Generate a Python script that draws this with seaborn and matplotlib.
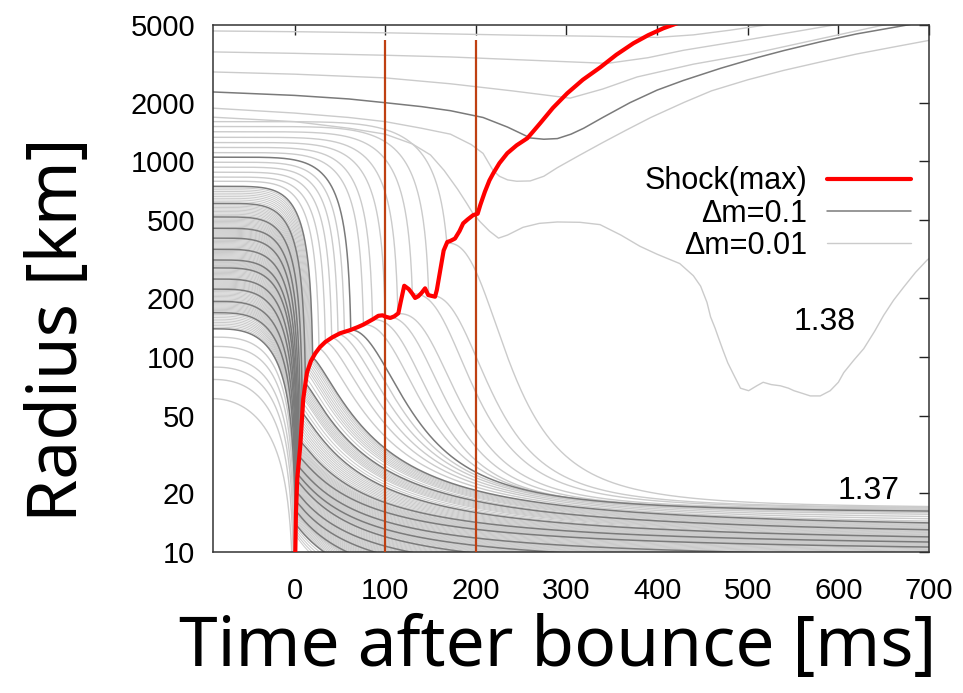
import numpy as np
import pandas as pd
import matplotlib
matplotlib.use("Agg")
import matplotlib.pyplot as plt
from matplotlib.lines import Line2D
from matplotlib.ticker import FixedLocator, NullLocator, FixedFormatter
import seaborn as sns

# ---------------- data ----------------
# maximum shock radius
shock_t = [0.8, 1.5, 3, 6.3, 9.6, 13.7, 18, 22.8, 28, 33.9, 42, 50.4, 61.5, 70, 75.8, 86.9,
           92.4, 97, 101, 105.6, 110, 114.5, 117, 121, 126, 130, 133, 136.5, 140, 144, 147.5,
           151, 155, 157, 160, 164.5, 168.5, 172, 177, 182, 186, 191, 197, 202, 205, 210, 215,
           219.3, 226, 234.7, 245, 256.8, 263, 271, 285, 300.9, 318, 337.4, 355, 373.8, 390,
           406.9, 422]
shock_r = [10, 15.8, 23.9, 35, 61, 83, 95, 104, 112, 119, 126, 132, 137, 142, 146, 156,
           162, 163, 160, 158, 161, 167, 190, 231, 222, 210, 200, 204, 212, 224, 207,
           205, 203, 220, 265, 350, 387, 392, 403, 440, 482, 505, 531, 540, 600, 700, 800,
           871, 980, 1102, 1210, 1315, 1420, 1570, 1880, 2236, 2620, 3037, 3520, 4030, 4430,
           4810, 5100]

# outer mass shells that are pushed out by the shock (vertex lists)
outer_a_t = [-90, 0, 100, 172, 250, 330, 400, 440, 480, 520, 540]
outer_a_r = [4660, 4620, 4560, 4500, 4430, 4380, 4320, 4450, 4700, 5000, 5200]
outer_b_t = [-90, 0, 100, 172, 260, 345, 390, 429, 500, 595, 620]
outer_b_r = [3640, 3580, 3500, 3430, 3300, 3180, 3400, 3710, 4200, 5000, 5200]
outer_c_t = [-90, 0, 100, 172, 240, 304, 340, 378, 440, 503, 580, 650, 680]
outer_c_r = [2874, 2800, 2680, 2500, 2300, 2110, 2350, 2710, 3150, 3550, 4250, 5000, 5300]
outer_d_t = [-90, 0, 60, 100, 140, 172, 208, 235, 250, 260, 275, 290, 305, 319, 340, 370,
             400, 429, 470, 510, 540, 580, 620, 676, 700]
outer_d_r = [2270, 2180, 2090, 2000, 1910, 1820, 1680, 1500, 1390, 1320, 1300, 1310, 1380,
             1480, 1680, 2000, 2320, 2600, 3000, 3400, 3700, 4100, 4500, 5000, 5250]
outer_e_t = [-90, 0, 60, 100, 140, 172, 195, 208, 219, 226, 235, 245, 260, 275, 290, 315,
             340, 365, 393, 430, 460, 500, 540, 580, 620, 660, 700]
outer_e_r = [1875, 1770, 1680, 1600, 1480, 1380, 1220, 1100, 900, 840, 805, 792, 795, 840,
             930, 1080, 1250, 1440, 1680, 2010, 2300, 2620, 2930, 3230, 3550, 3850, 4170]
shell138_t = [-90, 0, 60, 100, 130, 150, 165, 180, 190, 197, 205, 215, 225, 235, 252, 270,
              290, 315, 337, 360, 381, 400, 425, 440, 448, 455, 459, 464, 468, 473, 478, 485,
              492, 501, 510, 517, 526, 536, 545, 551, 560, 569, 580, 591, 600, 606, 617, 628,
              640, 650, 661, 672, 685, 698, 700]
shell138_r = [1686, 1600, 1480, 1380, 1230, 1080, 900, 720, 610, 540, 490, 440, 405, 420,
              460, 482, 490, 488, 475, 420, 368, 335, 300, 260, 230, 190, 160, 140, 124, 107,
              93, 80, 69, 67, 71, 74, 72, 71, 69, 67, 65, 63, 63, 67, 74, 83, 96, 110,
              135, 163, 195, 227, 270, 313, 318]

# settling shells, Δm = 0.1 (dark): radius at t=-90 ms, time of shock crossing, radius at 700 ms
dark_r_start = [139, 168, 192, 222, 250, 285, 313, 355, 405, 455, 520, 610, 746, 1052]
dark_t_cross = [0.8, 1.3, 1.6, 2.0, 2.4, 2.9, 3.4, 4.2, 5.2, 6.6, 8.6, 12, 20, 62]
dark_r_end = [3.0, 5.0, 5.8, 6.6, 7.3, 8.0, 8.8, 9.6, 10.6, 11.25, 11.95, 13.0, 14.1, 16.2]

# settling shells, Δm = 0.01 (light) that are distinguishable in the picture
inner_r_start = [61, 76.5, 88.5, 99.5, 113, 126]
inner_t_cross = [-1.0, -0.6, -0.2, 0.1, 0.4, 0.6]
inner_r_end = [3, 3, 3, 3, 3, 3]
mid_r_start = [792, 832, 881, 935, 991]
mid_t_cross = [27, 34, 41, 48, 55]
mid_r_end = [14.4, 14.8, 15.2, 15.6, 15.9]
upper_r_start = [1110, 1180, 1250, 1330, 1420, 1510, 1600]
upper_t_cross = [76, 86, 100, 114, 130, 148, 168]
upper_r_end = [16.3, 16.4, 16.5, 16.6, 16.8, 16.95, 17.1]
light_per_gap = 9   # Δm = 0.01 shells between two Δm = 0.1 shells in the dense core

mark_t = [100, 200]
xticks = [0, 100, 200, 300, 400, 500, 600, 700]
yticks = [10, 20, 50, 100, 200, 500, 1000, 2000, 5000]

label_138 = (585, 150, "1.38")
label_137 = (633, 20.5, "1.37")

# ---------------- build the shell trajectories ----------------
t_grid = np.linspace(-90, 700, 1581)
lt_s = np.array(shock_t)
lr_s = np.log(np.array(shock_r))


def shock_radius(tc):
    return float(np.exp(np.interp(tc, lt_s, lr_s)))


def trajectory(r0, tc, r_end):
    n = max(2.0, 2.0 + 3.0 * np.log10(r0 / 61.0))
    rk = shock_radius(tc)
    if tc <= 0.8 or rk < 12:
        T = tc + 91.0
        s = np.clip((t_grid + 90) / T, 0, 1)
        r = r0 * (1 - s ** n) ** (2 / 3)
        return np.maximum(r, 0.5)
    s_k = (1 - (rk / r0) ** 1.5) ** (1 / n)
    T = (tc + 90) / s_k
    s = np.clip((t_grid + 90) / T, 0, 1)
    r_ff = r0 * (1 - s ** n) ** (2 / 3)
    p = min(2.5, 1 + tc / 60.0)
    tau = 75.0
    dt = np.maximum(t_grid - tc, 0)
    g = 1 / (1 + (dt / tau) ** p)
    g700 = 1 / (1 + ((700 - tc) / tau) ** p)
    h = (g - g700) / (1 - g700)
    r_ps = np.exp(np.log(r_end) + (np.log(rk) - np.log(r_end)) * h)
    return np.maximum(np.where(t_grid < tc, r_ff, r_ps), 0.5)


rows = []
sid = 0


def add(r0, tc, re, kind):
    global sid
    r = trajectory(r0, tc, re)
    rows.append(pd.DataFrame({"t": t_grid, "r": r, "shell": sid, "kind": kind}))
    sid += 1


for a, b, c in zip(inner_r_start, inner_t_cross, inner_r_end):
    add(a, b, c, "light")
for i in range(len(dark_r_start) - 2):
    for k in range(1, light_per_gap + 1):
        f = k / (light_per_gap + 1)
        r0 = np.exp((1 - f) * np.log(dark_r_start[i]) + f * np.log(dark_r_start[i + 1]))
        tc = (1 - f) * dark_t_cross[i] + f * dark_t_cross[i + 1]
        re = np.exp((1 - f) * np.log(dark_r_end[i]) + f * np.log(dark_r_end[i + 1]))
        add(r0, tc, re, "dense")
for a, b, c in zip(mid_r_start, mid_t_cross, mid_r_end):
    add(a, b, c, "light")
for a, b, c in zip(upper_r_start, upper_t_cross, upper_r_end):
    add(a, b, c, "light")
for a, b, c in zip(dark_r_start, dark_t_cross, dark_r_end):
    add(a, b, c, "dark")

df = pd.concat(rows, ignore_index=True)

outer_light = [(outer_a_t, outer_a_r), (outer_b_t, outer_b_r), (outer_c_t, outer_c_r),
               (outer_e_t, outer_e_r), (shell138_t, shell138_r)]
outer_dark = [(outer_d_t, outer_d_r)]

# ---------------- drawing ----------------
sns.set_theme(style="white")
plt.rcParams["font.family"] = ["Liberation Sans", "DejaVu Sans"]
plt.rcParams["axes.unicode_minus"] = False
plt.rcParams["text.color"] = "black"
plt.rcParams["axes.labelcolor"] = "black"

LIGHT = "#cbcbcb"
DARK = "#7a7a7a"
RED = "#ff0000"
VLINE = "#bf4012"

fig = plt.figure(figsize=(9.63, 6.93), dpi=100)
ax = fig.add_axes([213 / 963, 1 - 552 / 693, 716 / 963, 527 / 693])
ax.set_yscale("log")
ax.set_xlim(-90, 700)
ax.set_ylim(10, 5000)

sns.lineplot(data=df[df.kind == "dense"], x="t", y="r", units="shell", estimator=None,
             sort=False, color=LIGHT, lw=0.75, ax=ax, legend=False, zorder=1)
sns.lineplot(data=df[df.kind == "light"], x="t", y="r", units="shell", estimator=None,
             sort=False, color=LIGHT, lw=1.0, ax=ax, legend=False, zorder=1)
for tt, rr in outer_light:
    sns.lineplot(x=tt, y=rr, sort=False, estimator=None, color=LIGHT, lw=1.0, ax=ax, zorder=1)
sns.lineplot(data=df[df.kind == "dark"], x="t", y="r", units="shell", estimator=None,
             sort=False, color=DARK, lw=1.1, ax=ax, legend=False, zorder=2)
for tt, rr in outer_dark:
    sns.lineplot(x=tt, y=rr, sort=False, estimator=None, color=DARK, lw=1.1, ax=ax, zorder=2)

ax.vlines(mark_t, 10, 4200, color=VLINE, lw=1.6, zorder=3)
sns.lineplot(x=shock_t, y=shock_r, sort=False, estimator=None, color=RED, lw=3.0, ax=ax, zorder=4)

ax.text(label_138[0], label_138[1], label_138[2], fontsize=23, ha="center", va="center",
        color="black")
ax.text(label_137[0], label_137[1], label_137[2], fontsize=23, ha="center", va="center",
        color="black")

ax.xaxis.set_major_locator(FixedLocator(xticks))
ax.yaxis.set_major_locator(FixedLocator(yticks))
ax.yaxis.set_major_formatter(FixedFormatter([str(v) for v in yticks]))
ax.yaxis.set_minor_locator(NullLocator())
ax.xaxis.set_minor_locator(NullLocator())
ax.tick_params(which="major", direction="in", top=True, right=True, length=7, width=1.0,
               labelsize=21, colors="#222222", labelcolor="black")
ax.tick_params(axis="y", pad=13)
ax.tick_params(axis="x", pad=18)
for sp in ax.spines.values():
    sp.set_color("#333333")
    sp.set_linewidth(1.1)
    sp.set_visible(True)

ax.set_xlabel("Time after bounce [ms]", fontsize=50, family=["Noto Sans", "DejaVu Sans"],
              color="black")
ax.set_ylabel("Radius [km]", fontsize=50, family=["Noto Sans", "DejaVu Sans"], color="black")
ax.xaxis.set_label_coords(0.482, -0.115)
ax.yaxis.set_label_coords(-0.166, 0.421)

handles = [Line2D([], [], color=RED, lw=3.0), Line2D([], [], color=DARK, lw=1.1),
           Line2D([], [], color=LIGHT, lw=1.0)]
labels = ["Shock(max)", "Δm=0.1", "Δm=0.01"]
leg = ax.legend(handles, labels, loc="upper right", bbox_to_anchor=(0.975, 0.732),
                frameon=False, markerfirst=False, fontsize=22, handlelength=2.75,
                handletextpad=0.65, labelspacing=0.08, borderaxespad=0, borderpad=0)
for txt in leg.get_texts():
    txt.set_color("black")

fig.savefig("out.png", dpi=100)
